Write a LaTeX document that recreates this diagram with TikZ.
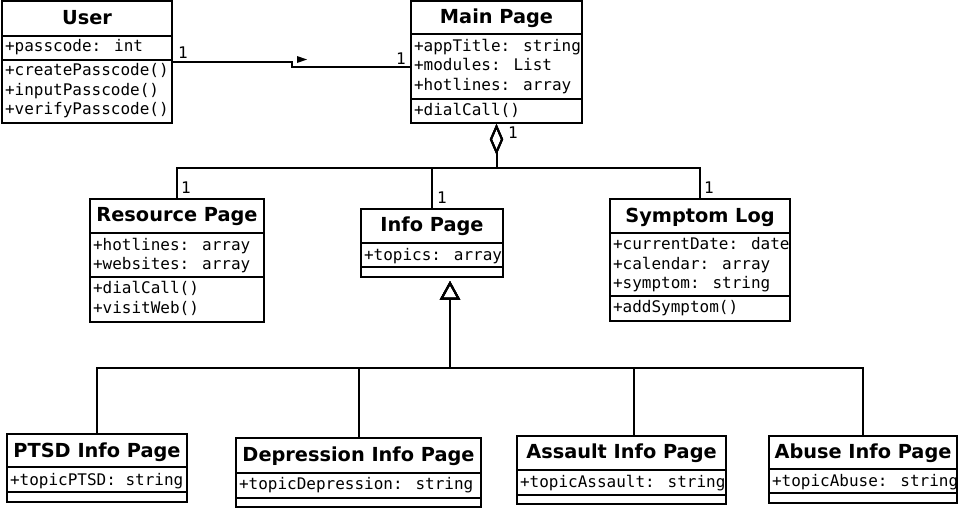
\documentclass[tikz,border=0pt]{standalone}
\usepackage{fontspec}
\setmainfont{DejaVu Sans}
\newfontfamily\umlmono{DejaVu Sans Mono}
\usetikzlibrary{fit,arrows.meta}

\tikzset{every picture/.style={line width=1.5pt}}
\tikzset{
  classbox/.style={draw, inner sep=0pt},
  classtitle/.style={inner sep=0pt, font=\bfseries\fontsize{14.5}{17}\selectfont},
  member/.style={anchor=west, inner sep=0pt, align=left, font=\umlmono\fontsize{12}{14.6}\selectfont},
  mult/.style={inner sep=0pt, font=\umlmono\fontsize{12}{14}\selectfont},
  aggregation/.style={{Diamond[open,length=23pt,width=10pt]}-},
  generalization/.style={{Triangle[open,length=14pt,width=15pt]}-},
}

\begin{document}
\begin{tikzpicture}[x=0.75pt,y=0.75pt,yscale=-1,xscale=1]
\useasboundingbox (0,0) rectangle (960,512);

%Shape: Class User
\node [classbox, fit={(2,1) (172,123)}] (user) {};
\draw (2,36) -- (172,36) ;
\draw (2,60) -- (172,60) ;
% Text Node
\node [classtitle] (user-t) at (87,18) {User};
\node [member] (user-a) at (4,47) {+passcode: int};
\node [member] (user-m) at (4,91) {+createPasscode()\\+inputPasscode()\\+verifyPasscode()};

%Shape: Class Main Page
\node [classbox, fit={(411,1) (582,123)}] (main) {};
\draw (411,34) -- (582,34) ;
\draw (411,99) -- (582,99) ;
% Text Node
\node [classtitle] (main-t) at (496.5,18) {Main Page};
\node [member] (main-a) at (413,66.5) {+appTitle: string\\+modules: List\\+hotlines: array};
\node [member] (main-m) at (413,110) {+dialCall()};

%Shape: Class Resource Page
\node [classbox, fit={(90,199) (264,322)}] (resource) {};
\draw (90,233) -- (264,233) ;
\draw (90,277) -- (264,277) ;
% Text Node
\node [classtitle] (resource-t) at (177,217) {Resource Page};
\node [member] (resource-a) at (92,255.5) {+hotlines: array\\+websites: array};
\node [member] (resource-m) at (92,298.5) {+dialCall()\\+visitWeb()};

%Shape: Class Info Page
\node [classbox, fit={(361,209) (503,277)}] (info) {};
\draw (361,243) -- (503,243) ;
\draw (361,267) -- (503,267) ;
% Text Node
\node [classtitle] (info-t) at (432,226) {Info Page};
\node [member] (info-a) at (363,256) {+topics: array};

%Shape: Class Symptom Log
\node [classbox, fit={(610,199) (790,321)}] (symptom) {};
\draw (610,233) -- (790,233) ;
\draw (610,296) -- (790,296) ;
% Text Node
\node [classtitle] (symptom-t) at (700,217) {Symptom Log};
\node [member] (symptom-a) at (612,265) {+currentDate: date\\+calendar: array\\+symptom: string};
\node [member] (symptom-m) at (612,308) {+addSymptom()};

%Shape: Class PTSD Info Page
\node [classbox, fit={(7,434) (187,502)}] (ptsd) {};
\draw (7,467) -- (187,467) ;
\draw (7,492) -- (187,492) ;
\node [classtitle] (ptsd-t) at (97,452) {PTSD Info Page};
\node [member] (ptsd-a) at (9,481) {+topicPTSD: string};

%Shape: Class Depression Info Page
\node [classbox, fit={(236,438) (481,507)}] (depression) {};
\draw (236,473) -- (481,473) ;
\draw (236,498) -- (481,498) ;
\node [classtitle] (depression-t) at (358.5,456) {Depression Info Page};
\node [member] (depression-a) at (238,485) {+topicDepression: string};

%Shape: Class Assault Info Page
\node [classbox, fit={(517,436) (726,504)}] (assault) {};
\draw (517,470) -- (726,470) ;
\draw (517,495) -- (726,495) ;
\node [classtitle] (assault-t) at (621.5,453) {Assault Info Page};
\node [member] (assault-a) at (519,483) {+topicAssault: string};

%Shape: Class Abuse Info Page
\node [classbox, fit={(769,436) (957,503)}] (abuse) {};
\draw (769,469) -- (957,469) ;
\draw (769,493) -- (957,493) ;
\node [classtitle] (abuse-t) at (863,453) {Abuse Info Page};
\node [member] (abuse-a) at (771,482) {+topicAbuse: string};

%Straight Lines: association User - Main Page
\coordinate (step-a) at (292,62);
\coordinate (step-b) at (292,67);
\coordinate (main-in) at (411,67);
\draw (user.east) -- (step-a) -- (step-b) -- (main-in) ;
\fill (297,56) -- (307,59.5) -- (297,63) -- cycle ;
\node [mult] (m-user) at (183,53) {1};
\node [mult] (m-main) at (401,59) {1};

%Straight Lines: aggregation Main Page
\draw [aggregation] (main.south) -- (496.5,168) -| (resource.north) ;
\draw [aggregation] (main.south) -- (496.5,168) -| (info.north) ;
\draw [aggregation] (main.south) -- (496.5,168) -| (symptom.north) ;
\node [mult] (m-agg) at (513,133) {1};
\node [mult] (m-resource) at (186,188) {1};
\node [mult] (m-info) at (442,198) {1};
\node [mult] (m-symptom) at (709,188) {1};

%Straight Lines: generalization Info Page
\coordinate (info-out) at (450,281);
\coordinate (assault-in) at (634,436);
\draw [generalization] (info-out) -- (450,368) -| (ptsd.north) ;
\draw [generalization] (info-out) -- (450,368) -| (depression.north) ;
\draw [generalization] (info-out) -- (450,368) -| (assault-in) ;
\draw [generalization] (info-out) -- (450,368) -| (abuse.north) ;

\end{tikzpicture}
\end{document}
